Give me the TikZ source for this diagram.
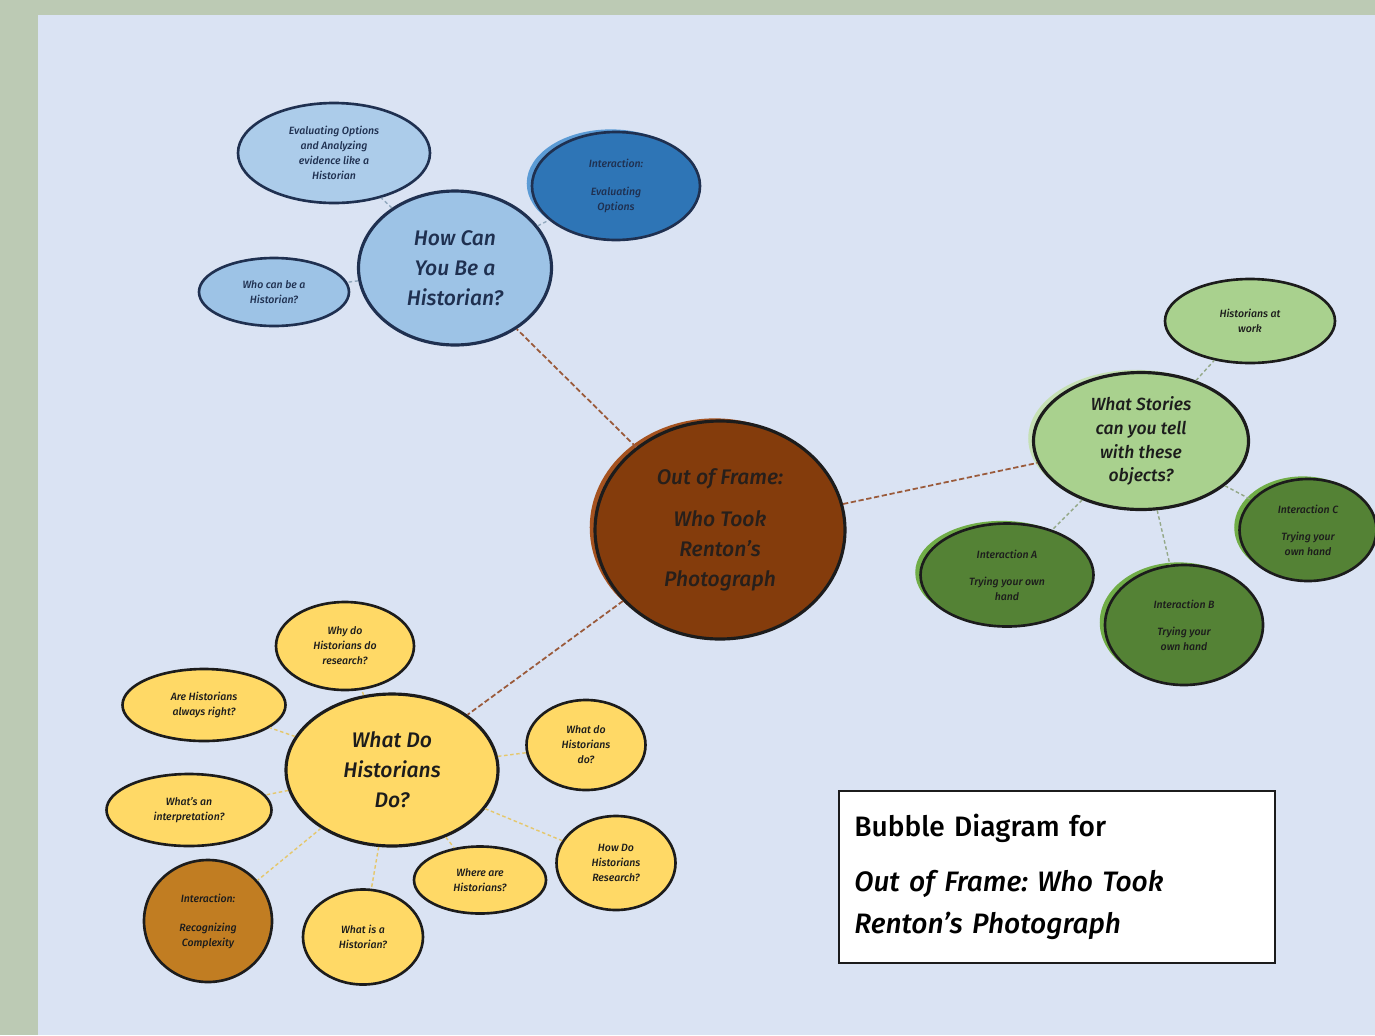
\documentclass[tikz,border=0pt]{standalone}
\usepackage{fontspec}
\setmainfont{Fira Sans}[BoldFont={* Medium}, BoldItalicFont={* Medium Italic}]
\usetikzlibrary{shapes.geometric, shadows}
\frenchspacing
\definecolor{FrameSage}{HTML}{BCCAB4}
\definecolor{PaperBlue}{HTML}{DAE3F3}
\definecolor{CoreBrown}{HTML}{843C0C}
\definecolor{CoreGhost}{HTML}{A5521F}
\definecolor{TrunkBrown}{HTML}{9A5A3A}
\definecolor{SkyBlue}{HTML}{9DC3E6}
\definecolor{DeepBlue}{HTML}{2E75B6}
\definecolor{DeepGhost}{HTML}{5B9BD5}
\definecolor{LeafGreen}{HTML}{A9D18E}
\definecolor{LeafGhost}{HTML}{C5E0B4}
\definecolor{MossGreen}{HTML}{548235}
\definecolor{MossGhost}{HTML}{70AD47}
\definecolor{SunYellow}{HTML}{FFD966}
\definecolor{Ochre}{HTML}{C17D22}
\definecolor{InkDark}{HTML}{1C1C1C}
\definecolor{InkNavy}{HTML}{1F3050}

\tikzset{
  dims/.style 2 args={minimum width=#1*0.02cm, minimum height=#2*0.02cm},
  bubble/.style={ellipse, draw=InkDark, line width=1.5pt, inner sep=0pt, align=center, text=InkDark,
    font=\fontsize{6}{8.5}\selectfont\bfseries\itshape},
  hub/.style={bubble, line width=1.8pt, font=\fontsize{12}{17}\selectfont\bfseries\itshape},
  ghost/.style={general shadow={fill=#1, shadow xshift=-3pt, shadow yshift=1.5pt}},
  trunk/.style={draw=TrunkBrown, line width=1pt, dash pattern=on 3pt off 1.5pt},
  spoke/.style={draw=#1, line width=0.8pt, dash pattern=on 2pt off 1.5pt}
}

\begin{document}
\begin{tikzpicture}[x=0.02cm, y=-0.02cm]
  % Page
  \useasboundingbox (0,0) rectangle (1375,1035);
  \fill[FrameSage] (0,0) rectangle (1375,1035);
  \fill[PaperBlue] (38,15) rectangle (1375,1035);

  % Centre
  \node[hub, fill=CoreBrown, ghost=CoreGhost, dims={250}{218}, text=InkDark!90!CoreBrown] (core) at (720,530)
    {Out of Frame:\\[7pt]Who Took\\Renton's\\Photograph};

  % Blue cluster
  \node[hub, fill=SkyBlue, dims={193}{154}, draw=InkNavy, text=InkNavy] (howcan) at (455,268)
    {How Can\\You Be a\\Historian?};
  \node[bubble, fill=SkyBlue!85!white, dims={192}{100}, draw=InkNavy, text=InkNavy] (evaluate) at (334,153)
    {Evaluating Options\\and Analyzing\\evidence like a\\Historian};
  \node[bubble, fill=DeepBlue, ghost=DeepGhost, dims={168}{108}, draw=InkNavy, text=InkNavy] (options) at (616,186)
    {Interaction:\\[7pt]Evaluating\\Options};
  \node[bubble, fill=SkyBlue, dims={150}{68}, draw=InkNavy, text=InkNavy] (whocan) at (274,292)
    {Who can be a\\Historian?};

  % Green cluster
  \node[hub, fill=LeafGreen, ghost=LeafGhost, dims={215}{137}, font=\fontsize{10}{13.6}\selectfont\bfseries\itshape] (stories) at (1141,441)
    {What Stories\\can you tell\\with these\\objects?};
  \node[bubble, fill=LeafGreen, dims={170}{84}] (atwork) at (1250,321)
    {Historians at\\work};
  \node[bubble, fill=MossGreen, ghost=MossGhost, dims={137}{102}] (interC) at (1308,530)
    {Interaction C\\[7pt]Trying your\\own hand};
  \node[bubble, fill=MossGreen, ghost=MossGhost, dims={173}{103}] (interA) at (1007,575)
    {Interaction A\\[7pt]Trying your own\\hand};
  \node[bubble, fill=MossGreen, ghost=MossGhost, dims={158}{120}] (interB) at (1184,625)
    {Interaction B\\[7pt]Trying your\\own hand};

  % Yellow cluster
  \node[hub, fill=SunYellow, dims={212}{152}] (whatdo) at (392,770)
    {What Do\\Historians\\Do?};
  \node[bubble, fill=SunYellow, dims={138}{88}] (why) at (345,646)
    {Why do\\Historians do\\research?};
  \node[bubble, fill=SunYellow, dims={163}{72}] (right) at (204,705)
    {Are Historians\\always right?};
  \node[bubble, fill=SunYellow, dims={165}{72}] (interp) at (189,810)
    {What's an\\interpretation?};
  \node[bubble, fill=Ochre, dims={128}{122}] (complex) at (208,921)
    {Interaction:\\[8pt]Recognizing\\Complexity};
  \node[bubble, fill=SunYellow, dims={120}{95}] (whatis) at (363,937)
    {What is a\\Historian?};
  \node[bubble, fill=SunYellow, dims={132}{67}] (where) at (480,880)
    {Where are\\Historians?};
  \node[bubble, fill=SunYellow, dims={119}{94}] (howdo) at (616,863)
    {How Do\\Historians\\Research?};
  \node[bubble, fill=SunYellow, dims={119}{90}] (doing) at (586,745)
    {What do\\Historians\\do?};

  % Trunks
  \draw[trunk] (core) -- (howcan);
  \draw[trunk] (core) -- (stories);
  \draw[trunk] (core) -- (whatdo);

  % Spokes
  \draw[spoke=SkyBlue!60!gray] (howcan) -- (evaluate);
  \draw[spoke=SkyBlue!60!gray] (howcan) -- (options);
  \draw[spoke=SkyBlue!60!gray] (howcan) -- (whocan);
  \draw[spoke=LeafGreen!50!gray] (stories) -- (atwork);
  \draw[spoke=LeafGreen!50!gray] (stories) -- (interC);
  \draw[spoke=LeafGreen!50!gray] (stories) -- (interA);
  \draw[spoke=LeafGreen!50!gray] (stories) -- (interB);
  \draw[spoke=SunYellow!80!gray] (whatdo) -- (why);
  \draw[spoke=SunYellow!80!gray] (whatdo) -- (right);
  \draw[spoke=SunYellow!80!gray] (whatdo) -- (interp);
  \draw[spoke=SunYellow!80!gray] (whatdo) -- (complex);
  \draw[spoke=SunYellow!80!gray] (whatdo) -- (whatis);
  \draw[spoke=SunYellow!80!gray] (whatdo) -- (where);
  \draw[spoke=SunYellow!80!gray] (whatdo) -- (howdo);
  \draw[spoke=SunYellow!80!gray] (whatdo) -- (doing);

  % Caption
  \node[draw=InkDark, fill=white, line width=0.9pt, anchor=north west, minimum width=8.72cm, minimum height=3.44cm,
    text width=8.1cm, align=left, font=\fontsize{16}{24}\selectfont\bfseries] (caption) at (838,790)
    {Bubble Diagram for\\[7pt]\itshape Out of Frame: Who Took\\\itshape Renton's Photograph};
\end{tikzpicture}
\end{document}
